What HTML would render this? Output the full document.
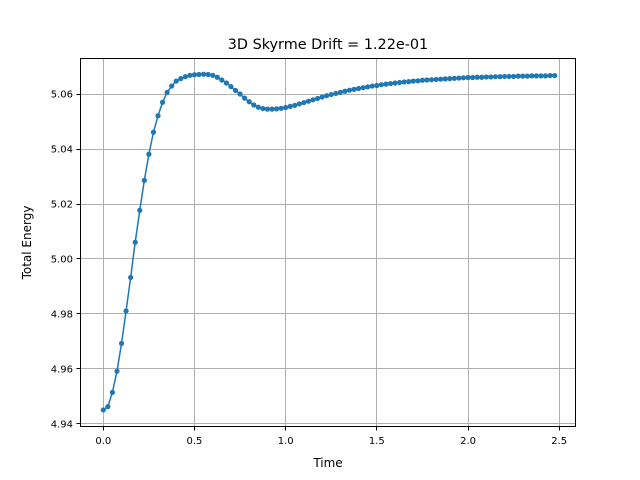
<!DOCTYPE html>
<html><head><meta charset="utf-8"><style>
body{margin:0;background:#fff}
svg{display:block;font-family:"DejaVu Sans","Liberation Sans",sans-serif}
</style></head><body>
<svg id="chart" width="640" height="480">
<rect width="640" height="480" fill="#fff"/>
<g id="grid"></g><g id="axes"></g><g id="series"></g>
<text x="328" y="49" text-anchor="middle" font-size="14.4" fill="#000">3D Skyrme Drift = 1.22e-01</text>
<text x="328" y="467" text-anchor="middle" font-size="12">Time</text>
<text transform="translate(31,242.5) rotate(-90)" text-anchor="middle" font-size="12">Total Energy</text>
</svg>
<script>
const dt = 0.025;
const energy = [4.9451,4.9463,4.9515,4.9592,4.9693,4.9811,4.9933,5.0061,5.0177,5.0286,5.0381,5.0461,5.0521,5.0570,5.0606,5.0629,5.0647,5.0656,5.0663,5.0668,5.0670,5.0671,5.0672,5.0671,5.0668,5.0661,5.0651,5.0640,5.0627,5.0613,5.0600,5.0585,5.0572,5.0560,5.0552,5.0547,5.0545,5.0545,5.0546,5.0548,5.0551,5.0555,5.0559,5.0564,5.0569,5.0574,5.0579,5.0584,5.0589,5.0594,5.0598,5.0602,5.0606,5.0610,5.0614,5.0617,5.0620,5.0623,5.0626,5.0629,5.0631,5.0634,5.0636,5.0638,5.0640,5.0642,5.0644,5.0645,5.0647,5.0648,5.0650,5.0651,5.0652,5.0653,5.0654,5.0655,5.0656,5.0657,5.0658,5.0659,5.0660,5.0660,5.0661,5.0661,5.0662,5.0662,5.0663,5.0663,5.0664,5.0664,5.0664,5.0665,5.0665,5.0665,5.0666,5.0666,5.0666,5.0666,5.0667,5.0667];
const xTicks = [0,0.5,1,1.5,2,2.5];
const xTickLabels = ["0.0","0.5","1.0","1.5","2.0","2.5"];
const yTicks = [4.94,4.96,4.98,5.00,5.02,5.04,5.06];
const yTickLabels = ["4.94","4.96","4.98","5.00","5.02","5.04","5.06"];

const L=80,R=576,T=58,B=427;
const xmin=-0.1277,xmax=2.592,ymin=4.9389,ymax=5.0731;
const X=v=>L+(v-xmin)/(xmax-xmin)*(R-L);
const Y=v=>B-(v-ymin)/(ymax-ymin)*(B-T);
const snap=v=>Math.round(v-0.5)+0.5;
const NS="http://www.w3.org/2000/svg";
function mk(tag,attrs,parent){const e=document.createElementNS(NS,tag);for(const k in attrs)e.setAttribute(k,attrs[k]);parent.appendChild(e);return e;}
const grid=document.getElementById('grid'),axes=document.getElementById('axes'),series=document.getElementById('series');
xTicks.forEach((t,i)=>{const x=snap(X(t));
 const g=mk('line',{x1:x,x2:x,y1:T,y2:B,stroke:'#b0b0b0','stroke-width':1},grid);
 
 
 mk('line',{x1:x,x2:x,y1:B,y2:B+3.5,stroke:'#000','stroke-width':1},axes);
 const tx=mk('text',{x:X(t),y:B+17,'text-anchor':'middle','font-size':10},axes);tx.textContent=xTickLabels[i];
 
 
});
yTicks.forEach((t,i)=>{const y=snap(Y(t));
 const g=mk('line',{x1:L,x2:R,y1:y,y2:y,stroke:'#b0b0b0','stroke-width':1},grid);
 
 
 mk('line',{x1:L-3.5,x2:L,y1:y,y2:y,stroke:'#000','stroke-width':1},axes);
 const tx=mk('text',{x:L-7,y:Y(t)+3.5,'text-anchor':'end','font-size':10},axes);tx.textContent=yTickLabels[i];
 
 
});
const frame=mk('rect',{x:L+0.5,y:T+0.5,width:R-L-1,height:B-T-1,fill:'none',stroke:'#000','stroke-width':1},axes);


const pts=energy.map((v,i)=>X(i*dt).toFixed(2)+','+Y(v).toFixed(2)).join(' ');
const line=mk('polyline',{points:pts,fill:'none',stroke:'#1f77b4','stroke-width':1.5},series);


energy.forEach((v,i)=>{const c=mk('circle',{cx:X(i*dt),cy:Y(v),r:2.6,fill:'#1f77b4'},series);
 
 
});
</script>
</body></html>
